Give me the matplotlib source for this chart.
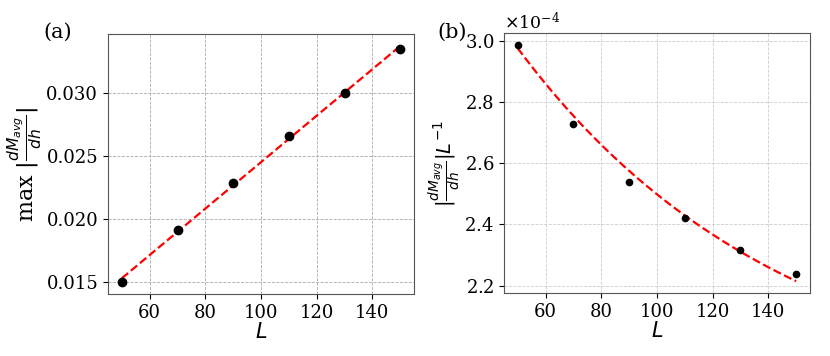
import numpy as np
import matplotlib
matplotlib.use("Agg")
import matplotlib.pyplot as plt

# system sizes and measured slopes
L = np.array([50, 70, 90, 110, 130, 150])
max_slope = np.array([0.01498, 0.01913, 0.02285, 0.02664, 0.03006, 0.03352])
slope_per_L = np.array([2.987e-4, 2.729e-4, 2.538e-4, 2.421e-4, 2.315e-4, 2.237e-4])
x_ticks = [60, 80, 100, 120, 140]

# fitted curve in (b): a*exp(-k*L) + c, parameters
fit_a, fit_k, fit_c = 1.982e-4, 0.0104, 1.798e-4

plt.rcParams['font.family'] = 'DejaVu Serif'
plt.rcParams['mathtext.fontset'] = 'dejavusans'

fig = plt.figure(figsize=(8.3, 3.56), dpi=100)
ax1 = fig.add_axes([0.130, 0.174, 0.369, 0.730])
ax2 = fig.add_axes([0.607, 0.177, 0.369, 0.730])

Lfine = np.linspace(L.min(), L.max(), 200)

# (a) linear fit
coef = np.polyfit(L, max_slope, 1)
ax1.plot(Lfine, np.polyval(coef, Lfine), 'r--', lw=1.6, zorder=2)
ax1.plot(L, max_slope, 'ko', ms=6, zorder=3)
ax1.set_xlabel(r'$L$', fontsize=15, labelpad=0)
ax1.set_ylabel(r'max $|\frac{dM_{avg}}{dh}|$', fontsize=16, labelpad=1)
ax1.set_yticks([0.015, 0.020, 0.025, 0.030])
ax1.grid(True, ls='--', color='#aaaaaa', lw=0.6)

# (b)
ax2.plot(Lfine, fit_a * np.exp(-fit_k * Lfine) + fit_c, 'r--', lw=1.6, zorder=2)
ax2.plot(L, slope_per_L, 'ko', ms=4.5, zorder=3)
ax2.set_xlabel(r'$L$', fontsize=15, labelpad=0)
ax2.set_ylabel(r'$|\frac{dM_{avg}}{dh}|L^{-1}$', fontsize=14, labelpad=1)
ax2.set_yticks([2.2e-4, 2.4e-4, 2.6e-4, 2.8e-4, 3.0e-4])
ax2.ticklabel_format(axis='y', style='sci', scilimits=(0, 0), useMathText=True)
ax2.yaxis.get_offset_text().set_fontsize(12.5)
ax2.grid(True, ls='--', color='#cccccc', lw=0.6)

for ax in (ax1, ax2):
    ax.set_xticks(x_ticks)
    ax.tick_params(labelsize=13)
    for s in ax.spines.values():
        s.set_color('#555555')

fig.text(0.052, 0.91, '(a)', fontsize=15, va='center')
fig.text(0.527, 0.91, '(b)', fontsize=15, va='center')

fig.savefig('out.png', dpi=100)
